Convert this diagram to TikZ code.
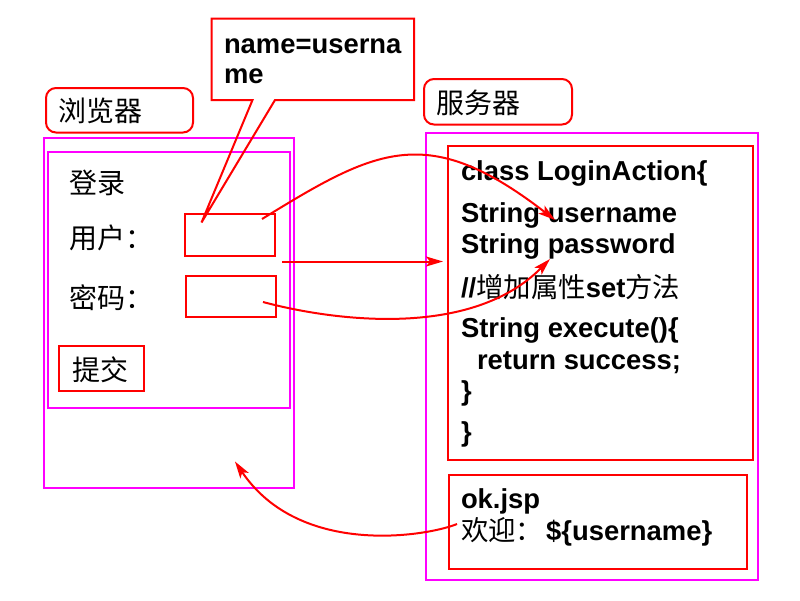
\documentclass[tikz,border=0pt]{standalone}
\usepackage{fontspec}
\setmainfont{Liberation Sans}
\newfontfamily\cjk{Noto Sans CJK SC}
\usetikzlibrary{arrows.meta}
\definecolor{pred}{RGB}{255,0,0}
\definecolor{pmag}{RGB}{255,0,255}
\tikzset{
  magbox/.style={draw=pmag, line width=2pt},
  redbox/.style={draw=pred, line width=2pt},
  lbl/.style={inner sep=0pt, outer sep=0pt, anchor=base west, font=\fontsize{28}{32}\selectfont\cjk},
  code/.style={inner sep=0pt, outer sep=0pt, anchor=base west, font=\fontsize{27.4}{31}\selectfont\bfseries},
  flow/.style={draw=pred, line width=2pt, -{Stealth[length=17pt,width=10pt,inset=4pt]}},
}
\begin{document}
\begin{tikzpicture}[x=1pt,y=-1pt]
\useasboundingbox[fill=white] (0,0) rectangle (800,600);

% browser panel
\draw[magbox] (44,138) rectangle (294,488);
\draw[magbox] (48,152) rectangle (290,407.5);
\draw[redbox, rounded corners=10pt] (46,88) rectangle (193,132.5);
\node[lbl] (browser) at (58,121.5) {浏览器};
\node[lbl] (login) at (69.5,193) {登录};
\node[lbl] (userlbl) at (69.5,248.5) {用户：};
\node[lbl] (pwdlbl) at (69.5,308.5) {密码：};
\node[redbox, minimum width=90pt, minimum height=42pt, inner sep=0pt] (userin) at (230,235) {};
\node[redbox, minimum width=90pt, minimum height=41.5pt, inner sep=0pt] (pwdin) at (231,296.5) {};
\node[redbox, minimum width=85pt, minimum height=45.5pt, inner sep=0pt] (submit) at (101.5,368.5) {};
\node[lbl] (submittxt) at (72.5,380.5) {提交};

% callout
\draw[redbox, line join=miter] (211.5,18.5) -- (414,18.5) -- (414,100) -- (275,100) -- (201.5,222.5) -- (252.5,100) -- (211.5,100) -- cycle;
\node[code] (call1) at (224,53) {name=userna};
\node[code] (call2) at (224,83) {me};

% server panel
\draw[redbox, rounded corners=10pt] (424,79) rectangle (572,124.5);
\node[lbl] (server) at (436,113.5) {服务器};
\draw[magbox] (426,133) rectangle (758,580);
\draw[redbox] (448,146) rectangle (753,459.5);
\draw[redbox] (448.5,475) rectangle (747,568.5);

\node[code] (c1) at (461,180) {class LoginAction\{};
\node[code] (c2) at (461,222) {String username};
\node[code] (c3) at (461,253) {String password};
\node[code] (c4) at (461,297) {//{\mdseries\cjk 增加属性}set{\mdseries\cjk 方法}};
\node[code] (c5) at (461,337) {String execute()\{};
\node[code] (c6) at (477,369) {return success;};
\node[code] (c7) at (461,400) {\}};
\node[code] (c8) at (461,441) {\}};
\node[code] (ok1) at (461,508.5) {ok.jsp};
\node[code] (ok2) at (461,540) {{\mdseries\cjk 欢迎：}\hspace{3pt}\$\{username\}};

% connectors
\coordinate (a1s) at (262,219);
\coordinate (a1e) at (555,220);
\draw[flow] (a1s) .. controls (376,149) and (427,121) .. (a1e);

\coordinate (a2s) at (282,261.5);
\coordinate (a2e) at (443,261.5);
\draw[flow] (a2s) -- (a2e);

\coordinate (a3s) at (263,302);
\coordinate (a3e) at (550,259);
\draw[flow] (a3s) .. controls (330,320) and (470,340) .. (a3e);

\coordinate (a4s) at (457,524);
\coordinate (a4e) at (235,461.5);
\draw[flow] (a4s) .. controls (428,536) and (300,558) .. (a4e);
\end{tikzpicture}
\end{document}
